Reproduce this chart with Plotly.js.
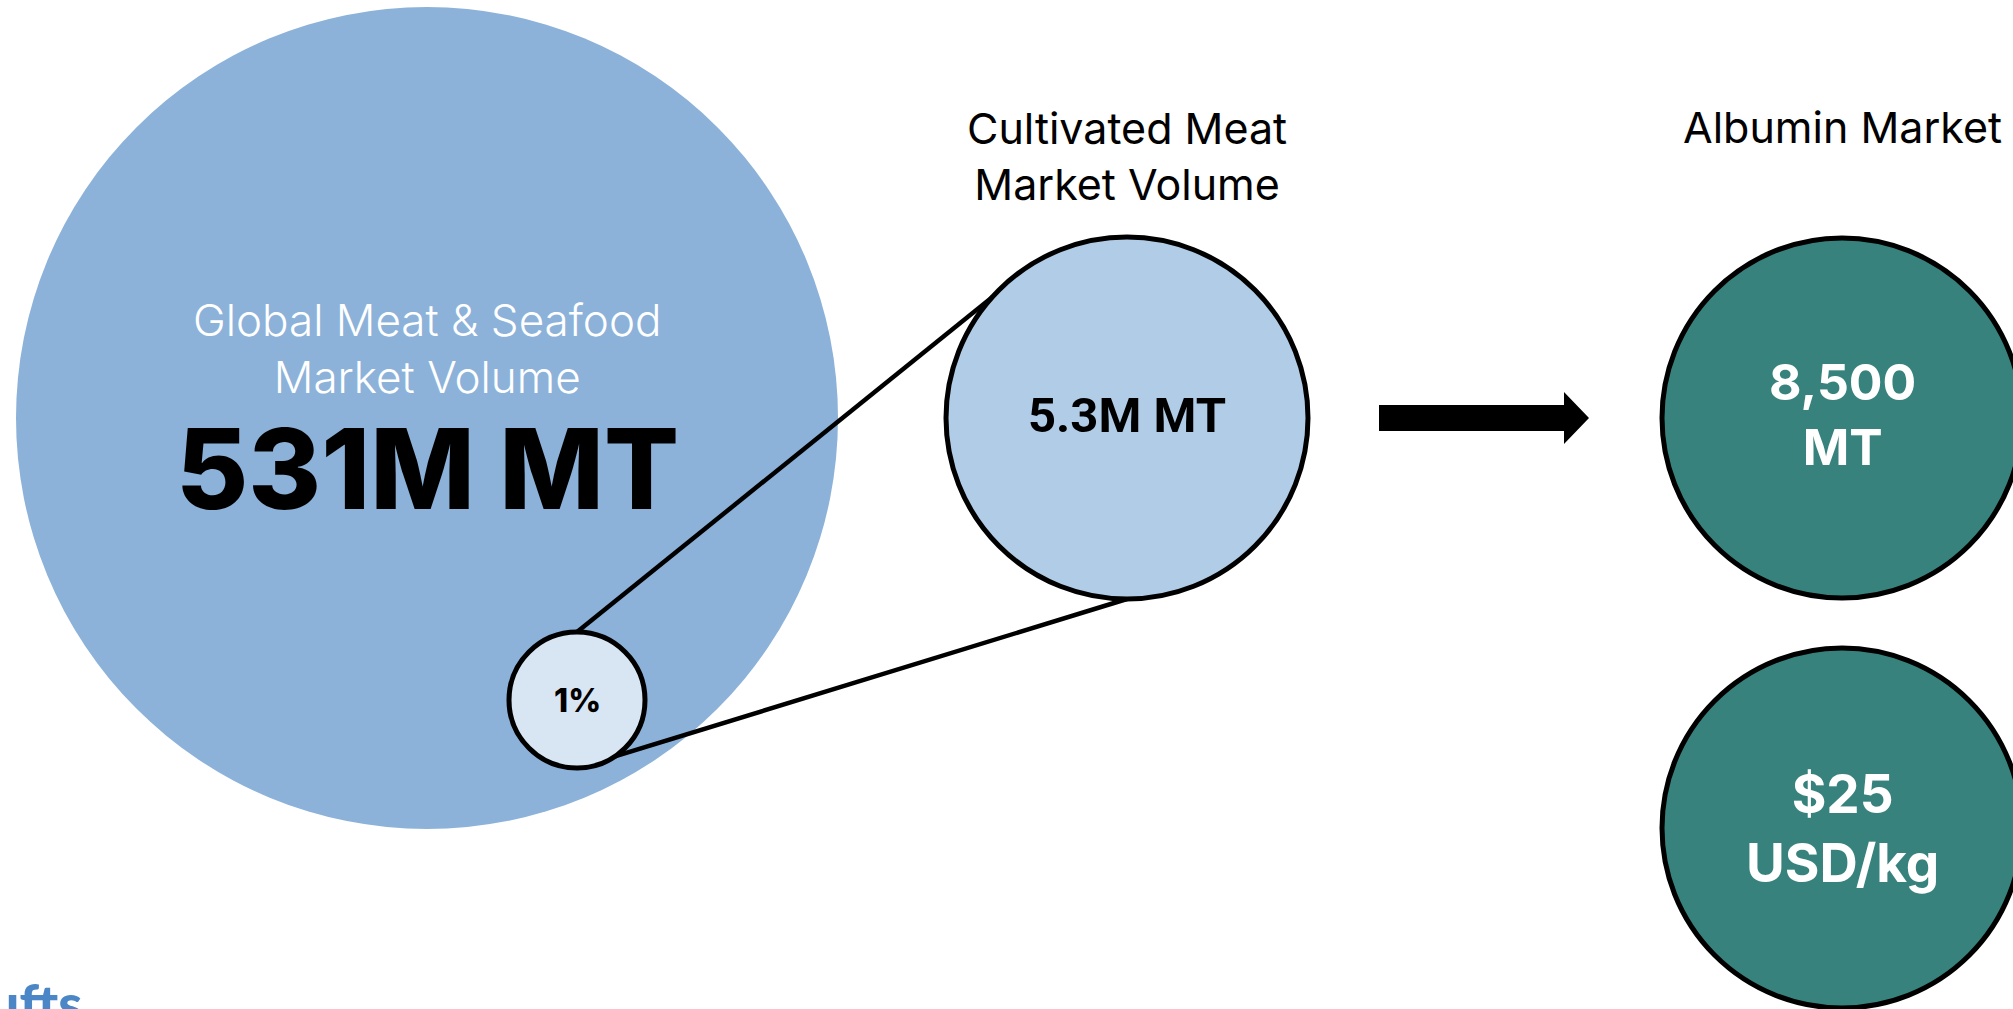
<!DOCTYPE html>
<html>
<head>
<meta charset="utf-8">
<script src="https://cdn.plot.ly/plotly-3.0.1.min.js"></script>
<style>
  html, body { margin: 0; padding: 0; background: #ffffff; overflow: hidden; }
  #chart { width: 2013px; height: 1009px; }
</style>
</head>
<body>
<div id="chart"></div>
<script>
// ---- data ----
const marketNames = ["Global Meat & Seafood<br>Market Volume", "Cultivated Meat<br>Market Volume", "Albumin Market"];
const volumeLabels = ["531M MT", "5.3M MT", "8,500<br>MT"];
const shareLabel = "1%";
const priceLabel = "$25<br>USD/kg";
const logoText = "Tufts";

// ---- layout geometry (pixel units on the hidden axes) ----
const W = 2013, H = 1009;
const bigC   = {x: 427,  y: 418, r: 411};
const smallC = {x: 577,  y: 700, r: 68};
const cultC  = {x: 1127, y: 418, r: 181};
const albC1  = {x: 1842, y: 418, r: 180};
const albC2  = {x: 1842, y: 828, r: 180};

function circle(c, fill, lineW) {
  return {
    type: 'circle', xref: 'x', yref: 'y',
    x0: c.x - c.r, x1: c.x + c.r, y0: c.y - c.r, y1: c.y + c.r,
    fillcolor: fill,
    line: {color: '#000000', width: lineW}
  };
}
function seg(x0, y0, x1, y1) {
  return {type: 'line', xref: 'x', yref: 'y', x0: x0, y0: y0, x1: x1, y1: y1,
          line: {color: '#000000', width: 4.5}};
}

// upper connector ends on the cultivated circle's edge (upper-left)
const ang = (225 - 3) * Math.PI / 180;
const upEnd = {x: cultC.x + cultC.r * Math.cos(ang), y: cultC.y + cultC.r * Math.sin(ang)};

const arrow = {x0: 1379, x1: 1564, tip: 1589, y: 418, half: 13, headHalf: 26};
const arrowPath = `M ${arrow.x0},${arrow.y - arrow.half} L ${arrow.x1},${arrow.y - arrow.half} L ${arrow.x1},${arrow.y - arrow.headHalf} L ${arrow.tip},${arrow.y} L ${arrow.x1},${arrow.y + arrow.headHalf} L ${arrow.x1},${arrow.y + arrow.half} L ${arrow.x0},${arrow.y + arrow.half} Z`;

const shapes = [
  circle(bigC, '#8cb2d9', 0),
  seg(smallC.x, smallC.y - smallC.r, upEnd.x, upEnd.y),
  seg(smallC.x, smallC.y + smallC.r, cultC.x, cultC.y + cultC.r),
  circle(cultC, '#b0cce6', 5),
  circle(smallC, '#d8e6f3', 5),
  circle(albC1, '#37827d', 5),
  circle(albC2, '#37827d', 5),
  {type: 'path', xref: 'x', yref: 'y', path: arrowPath, fillcolor: '#000000', line: {width: 0}}
];

const thin = {family: 'Inter, "Open Sans", sans-serif', size: 43, color: '#000000', weight: 400};
function ann(text, x, y, font, yanchor) {
  return {text: text, x: x, y: y, xref: 'x', yref: 'y', showarrow: false,
          xanchor: 'center', yanchor: yanchor || 'middle', align: 'center', font: font};
}

const annotations = [
  ann(marketNames[0], bigC.x, 348, Object.assign({}, thin, {color: '#ffffff', weight: 300, size: 44})),
  ann(volumeLabels[0], bigC.x, 468, {family: 'Inter, sans-serif', size: 111, color: '#000000', weight: 800}),
  ann(shareLabel, smallC.x, smallC.y, {family: 'Inter, sans-serif', size: 32, color: '#000000', weight: 800}),
  ann(marketNames[1], cultC.x, 156, thin),
  ann(volumeLabels[1], cultC.x, cultC.y - 3, {family: 'Roboto, sans-serif', size: 49, color: '#000000', weight: 700}),
  ann(marketNames[2], albC1.x, 127, thin),
  ann(volumeLabels[2], albC1.x, 414, {family: 'Inter, sans-serif', size: 50, color: '#ffffff', weight: 700}),
  ann(priceLabel, albC2.x, 828, {family: 'Inter, sans-serif', size: 53, color: '#ffffff', weight: 700}),
  // partially visible logo text in the bottom-left corner
  {text: logoText, x: 84, y: 968, xref: 'x', yref: 'y', showarrow: false, xanchor: 'right', yanchor: 'top',
   font: {family: 'Lato, sans-serif', size: 54, color: '#4b87c7', weight: 900}}
];

const layout = {
  width: W, height: H,
  margin: {l: 0, r: 0, t: 0, b: 0, pad: 0},
  paper_bgcolor: '#ffffff', plot_bgcolor: '#ffffff',
  xaxis: {range: [0, W], visible: false, fixedrange: true},
  yaxis: {range: [H, 0], visible: false, fixedrange: true},
  shapes: shapes,
  annotations: annotations,
  showlegend: false
};

Plotly.newPlot('chart', [], layout, {staticPlot: true, displayModeBar: false});
</script>
</body>
</html>
